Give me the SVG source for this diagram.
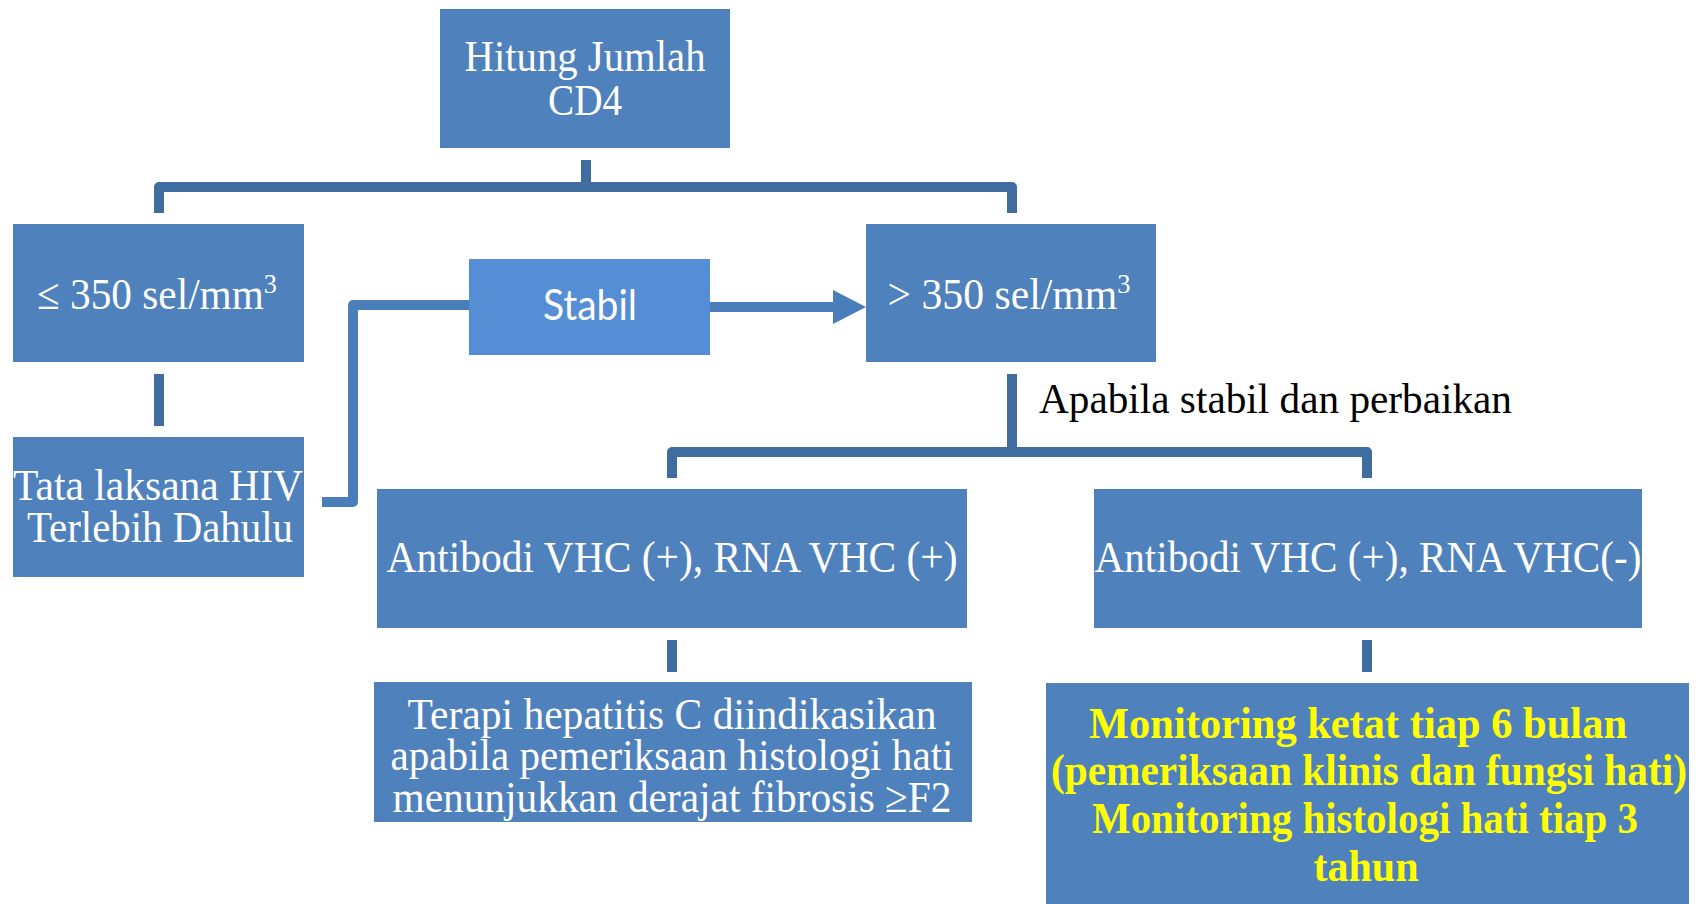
<svg xmlns="http://www.w3.org/2000/svg" width="1699" height="904" viewBox="0 0 1699 904">
  <style>
    .box { fill: #4f81bd; }
    .box-light { fill: #558ed5; }
    .t { font-family: "Liberation Serif", "Times New Roman", serif; font-size: 44px; fill: #ffffff; text-anchor: middle; }
    .ts { font-family: Lato, "Open Sans", "Liberation Sans", sans-serif; font-size: 42px; fill: #ffffff; text-anchor: middle; }
    .ty { font-family: "Liberation Serif", "Times New Roman", serif; font-size: 45px; font-weight: bold; fill: #ffff00; text-anchor: middle; }
    .lbl { font-family: "Liberation Serif", "Times New Roman", serif; font-size: 43px; fill: #000000; }
    .sup { font-size: 28px; }
    .conn { fill: none; stroke: #3f6d9f; stroke-width: 10; stroke-linejoin: round; }
    .conn-s { fill: none; stroke: #4a7ebb; stroke-width: 10; stroke-linejoin: round; }
  </style>
  <rect width="1699" height="904" fill="#ffffff"/>

  <g id="connectors">
    <!-- root to first level -->
    <path class="conn" d="M586,160 V187" stroke-width="8"/>
    <path class="conn" d="M159,213 V187 H1012 V213"/>
    <!-- low count to HIV management -->
    <path class="conn" d="M159,374 V426" stroke="#3f6fa8"/>
    <!-- HIV management back up through Stabil -->
    <path class="conn-s" d="M322,502 H353 V305 H469"/>
    <path class="conn-s" d="M710,307 H836" stroke-width="12"/>
    <polygon points="833,290 866,307 833,324" fill="#4a7ebb"/>
    <!-- high count to second level -->
    <path class="conn" d="M1012,374 V452"/>
    <path class="conn" d="M672,478 V452 H1367 V478"/>
    <!-- second level to outcomes -->
    <path class="conn" d="M672,640 V672" stroke="#3f6fa8"/>
    <path class="conn" d="M1367,640 V672" stroke="#3f6fa8"/>
  </g>

  <g id="node-cd4">
    <rect class="box" x="440" y="9" width="290" height="139"/>
    <text class="t" x="585" y="71" textLength="241" lengthAdjust="spacingAndGlyphs">Hitung Jumlah</text>
    <text class="t" x="585" y="115" textLength="74" lengthAdjust="spacingAndGlyphs">CD4</text>
  </g>

  <g id="node-low">
    <rect class="box" x="13" y="224" width="291" height="138"/>
    <text class="t" x="157" y="309" textLength="240" lengthAdjust="spacingAndGlyphs">≤ 350 sel/mm<tspan class="sup" dy="-16">3</tspan></text>
  </g>

  <g id="node-stabil">
    <rect class="box-light" x="469" y="259" width="241" height="96"/>
    <text class="ts" x="590" y="320" textLength="94" lengthAdjust="spacingAndGlyphs">Stabil</text>
  </g>

  <g id="node-high">
    <rect class="box" x="866" y="224" width="290" height="138"/>
    <text class="t" x="1009" y="309" textLength="243" lengthAdjust="spacingAndGlyphs">&gt; 350 sel/mm<tspan class="sup" dy="-16">3</tspan></text>
  </g>

  <g id="node-hiv">
    <rect class="box" x="13" y="437" width="291" height="140"/>
    <text class="t" x="158" y="500" textLength="290" lengthAdjust="spacingAndGlyphs">Tata laksana HIV</text>
    <text class="t" x="160" y="542" textLength="266" lengthAdjust="spacingAndGlyphs">Terlebih Dahulu</text>
  </g>

  <g id="label-stable">
    <text class="lbl" x="1039" y="413" textLength="473" lengthAdjust="spacingAndGlyphs">Apabila stabil dan perbaikan</text>
  </g>

  <g id="node-rna-pos">
    <rect class="box" x="377" y="489" width="590" height="139"/>
    <text class="t" x="672" y="572" textLength="571" lengthAdjust="spacingAndGlyphs">Antibodi VHC (+), RNA VHC (+)</text>
  </g>

  <g id="node-rna-neg">
    <rect class="box" x="1094" y="489" width="548" height="139"/>
    <text class="t" x="1368" y="572" textLength="547" lengthAdjust="spacingAndGlyphs">Antibodi VHC (+), RNA VHC(-)</text>
  </g>

  <g id="node-therapy">
    <rect class="box" x="374" y="682" width="598" height="140"/>
    <text class="t" x="672" y="729" textLength="529" lengthAdjust="spacingAndGlyphs">Terapi hepatitis C diindikasikan</text>
    <text class="t" x="672" y="770" textLength="563" lengthAdjust="spacingAndGlyphs">apabila pemeriksaan histologi hati</text>
    <text class="t" x="672" y="812" textLength="559" lengthAdjust="spacingAndGlyphs">menunjukkan derajat fibrosis ≥F2</text>
  </g>

  <g id="node-monitoring">
    <rect class="box" x="1046" y="683" width="643" height="221"/>
    <text class="ty" x="1358" y="738" textLength="538" lengthAdjust="spacingAndGlyphs">Monitoring ketat tiap 6 bulan</text>
    <text class="ty" x="1369" y="785" textLength="636" lengthAdjust="spacingAndGlyphs">(pemeriksaan klinis dan fungsi hati)</text>
    <text class="ty" x="1365" y="833" textLength="546" lengthAdjust="spacingAndGlyphs">Monitoring histologi hati tiap 3</text>
    <text class="ty" x="1366" y="881" textLength="105" lengthAdjust="spacingAndGlyphs">tahun</text>
  </g>
</svg>
